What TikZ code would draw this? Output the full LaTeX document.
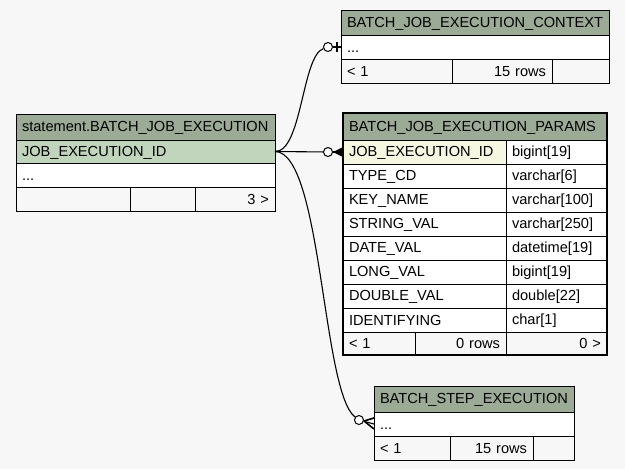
\documentclass[tikz,border=0pt]{standalone}
\usepackage{fontspec}
\setmainfont{Liberation Sans}
\usepackage{xcolor}
\usetikzlibrary{arrows.meta, calc, positioning}

\definecolor{bggray}{HTML}{F7F7F7}
\definecolor{hdrgreen}{HTML}{9BAB96}
\definecolor{keygreen}{HTML}{C1D4BC}
\definecolor{fkyellow}{HTML}{F5F7E0}

% one table cell: name, x, y, width, height, style, text
\newcommand{\cell}[7]{%
  \pgfmathsetmacro{\cellw}{#4-12}%
  \node[cell, #6, text width=\cellw pt, minimum height=#5 pt] (#1) at (#2,#3) {\rule[-2pt]{0pt}{14pt}#7};}

\begin{document}
\begin{tikzpicture}[x=1pt, y=-1pt,
  cell/.style={draw, line width=0.8pt, anchor=north west, fill=white, outer sep=0pt,
    inner xsep=6pt, inner ysep=0pt, align=left, font=\fontsize{14.6}{17}\selectfont},
  hdr/.style={fill=hdrgreen},
  key/.style={fill=keygreen},
  foot/.style={fill=bggray},
  ring/.style={circle, draw, line width=1pt, fill=white, minimum size=9pt, inner sep=0pt},
  conn/.style={line width=1.1pt}]
\useasboundingbox[fill=bggray] (0,0) rectangle (625,469);

% statement.BATCH_JOB_EXECUTION
\cell{job-hdr}{16}{114}{259}{26}{hdr}{statement.BATCH\_JOB\_EXECUTION}
\cell{job-id}{16}{140}{259}{23}{key}{JOB\_EXECUTION\_ID}
\cell{job-more}{16}{163}{259}{24}{}{...}
\cell{job-f1}{16}{187}{114}{24}{foot}{}
\cell{job-f2}{130}{187}{65}{24}{foot}{}
\cell{job-f3}{195}{187}{80}{24}{foot, align=right}{3 >}

% BATCH_JOB_EXECUTION_CONTEXT
\cell{ctx-hdr}{341}{10}{268}{25}{hdr}{BATCH\_JOB\_EXECUTION\_CONTEXT}
\cell{ctx-more}{341}{35}{268}{24}{}{...}
\cell{ctx-f1}{341}{59}{111}{24}{foot}{< 1}
\cell{ctx-f2}{452}{59}{100}{24}{foot, align=right}{15 rows}
\cell{ctx-f3}{552}{59}{57}{24}{foot}{}

% BATCH_JOB_EXECUTION_PARAMS
\cell{par-hdr}{343}{113}{264}{27}{hdr}{BATCH\_JOB\_EXECUTION\_PARAMS}
\cell{par-id}{343}{140}{163}{24}{fill=fkyellow}{JOB\_EXECUTION\_ID}
\cell{par-idt}{506}{140}{101}{24}{}{bigint[19]}
\cell{par-type}{343}{164}{163}{24}{}{TYPE\_CD}
\cell{par-typet}{506}{164}{101}{24}{}{varchar[6]}
\cell{par-key}{343}{188}{163}{24}{}{KEY\_NAME}
\cell{par-keyt}{506}{188}{101}{24}{}{varchar[100]}
\cell{par-str}{343}{212}{163}{24}{}{STRING\_VAL}
\cell{par-strt}{506}{212}{101}{24}{}{varchar[250]}
\cell{par-date}{343}{236}{163}{24}{}{DATE\_VAL}
\cell{par-datet}{506}{236}{101}{24}{}{datetime[19]}
\cell{par-long}{343}{260}{163}{24}{}{LONG\_VAL}
\cell{par-longt}{506}{260}{101}{24}{}{bigint[19]}
\cell{par-dbl}{343}{284}{163}{24}{}{DOUBLE\_VAL}
\cell{par-dblt}{506}{284}{101}{24}{}{double[22]}
\cell{par-ident}{343}{308}{163}{24}{}{IDENTIFYING}
\cell{par-identt}{506}{308}{101}{24}{}{char[1]}
\cell{par-f1}{343}{332}{72}{23}{foot}{< 1}
\cell{par-f2}{415}{332}{91}{23}{foot, align=right}{0 rows}
\cell{par-f3}{506}{332}{101}{23}{foot, align=right}{0 >}
\draw[line width=2.5pt] (par-hdr.north west) rectangle (par-f3.south east);

% BATCH_STEP_EXECUTION
\cell{step-hdr}{374}{386}{200}{26}{hdr}{BATCH\_STEP\_EXECUTION}
\cell{step-more}{374}{412}{200}{24}{}{...}
\cell{step-f1}{374}{436}{76}{24}{foot}{< 1}
\cell{step-f2}{450}{436}{83}{24}{foot, align=right}{15 rows}
\cell{step-f3}{533}{436}{41}{24}{foot}{}

% to context: zero or one
\node[ring] (ctx-ring) at (328,47) {};
\draw[conn] (job-id.east) .. controls (302,152) and (302,56) .. (ctx-ring);
\draw[conn] (ctx-ring) -- (ctx-more.west);
\draw[line width=2.2pt] ($(ctx-more.west)+(-4,-5)$) -- ++(0,10);

% to params: zero or many
\node[ring] (par-ring) at (328,152) {};
\draw[conn] (job-id.east) -- (par-ring);
\draw[conn] (par-ring) -- (par-id.west);
\fill (333,152) -- ($(par-id.west)+(0,-5)$) -- ($(par-id.west)+(0,5)$) -- cycle;

% to step: zero or many
\node[ring] (step-ring) at (359,420) {};
\draw[conn] (job-id.east) .. controls (322,152) and (322,392) .. (step-ring);
\draw[conn] (step-ring) -- (step-more.west);
\draw[line width=1.6pt] (364,421) -- ($(step-more.west)+(0,-6)$);
\draw[line width=1.6pt] (364,421) -- ($(step-more.west)+(0,5)$);
\end{tikzpicture}
\end{document}
